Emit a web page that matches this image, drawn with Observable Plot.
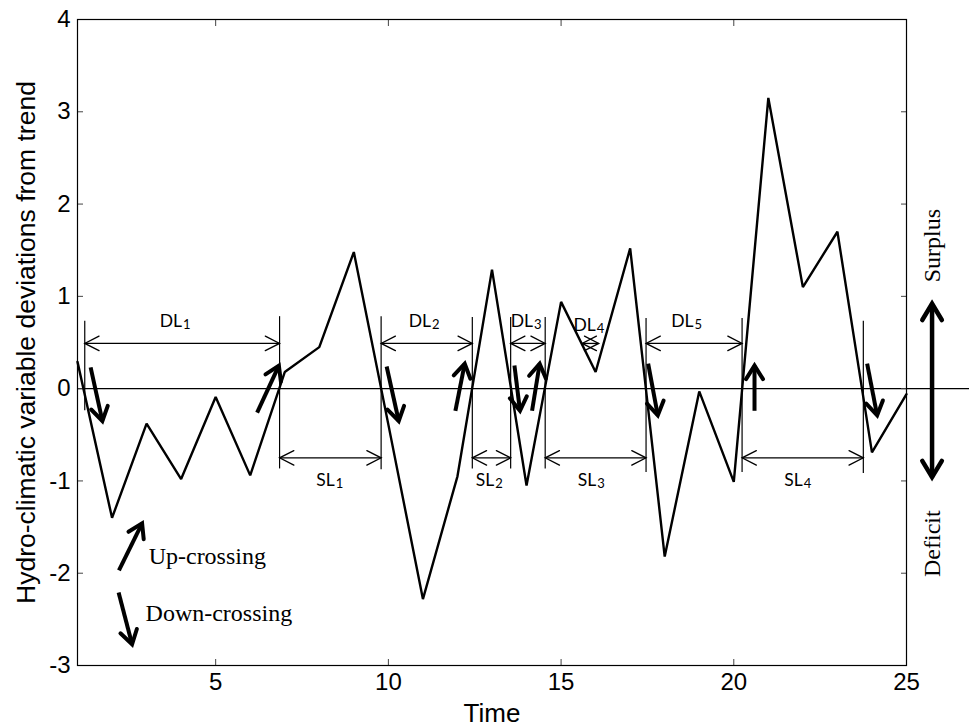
<!DOCTYPE html>
<html>
<head>
<meta charset="utf-8">
<script src="https://cdn.jsdelivr.net/npm/d3@7"></script>
<script src="https://cdn.jsdelivr.net/npm/@observablehq/plot@0.6"></script>
<style>
  body { margin: 0; background: #fff; }
  #chart { width: 969px; height: 728px; }
</style>
</head>
<body>
<div id="chart"></div>
<script>
// Series: deviations of a hydro-climatic variable from its trend
const time = [1, 2, 3, 4, 5, 6, 7, 8, 9, 10, 11, 12, 13, 14, 15, 16, 17, 18, 19, 20, 21, 22, 23, 24, 25];
const deviation = [0.29, -1.40, -0.38, -0.98, -0.09, -0.94, 0.18, 0.45, 1.48, -0.39, -2.28, -0.95, 1.29, -1.05, 0.94, 0.18, 1.52, -1.82, -0.03, -1.01, 3.15, 1.10, 1.70, -0.69, -0.06];

const xTicks = [5, 10, 15, 20, 25];
const yTicks = [-3, -2, -1, 0, 1, 2, 3, 4];

// Zero crossings of the series, with the extent of their marker lines
const crossings = [1.21, 6.85, 9.79, 12.43, 13.54, 14.54, 17.46, 20.24, 23.75];
const markerTop = [0.73, 0.78, 0.78, 0.77, 0.77, 0.77, 0.76, 0.76, 0.73];
const markerBottom = [-0.24, -0.87, -0.88, -0.87, -0.87, -0.87, -0.91, -0.91, -0.92];

// Run lengths: DL spans and SL spans
const dlIndex = ["1", "2", "3", "4", "5"];
const dlStart = [1.21, 9.79, 13.54, 15.61, 17.46];
const dlEnd = [6.85, 12.43, 14.54, 16.09, 20.24];
const dlLabelX = [3.91, 11.12, 14.07, 15.89, 18.72];
const dlLabelY = [0.73, 0.73, 0.73, 0.69, 0.73];
const dlLevel = 0.49;

const slIndex = ["1", "2", "3", "4"];
const slStart = [6.85, 12.43, 14.54, 20.24];
const slEnd = [9.79, 13.54, 17.46, 23.75];
const slLabelX = [8.33, 12.95, 15.90, 21.88];
const slLabelY = [-0.99, -0.99, -0.99, -0.99];
const slLevel = -0.75;

// Up- and down-crossing indicators: [x1, y1, x2, y2]
const crossingArrows = [
  [1.38, 0.23, 1.72, -0.35],
  [6.20, -0.26, 6.83, 0.25],
  [9.95, 0.24, 10.30, -0.35],
  [11.94, -0.24, 12.21, 0.27],
  [13.65, 0.25, 13.81, -0.24],
  [14.16, -0.24, 14.38, 0.27],
  [17.52, 0.27, 17.80, -0.29],
  [20.60, -0.24, 20.60, 0.25],
  [23.86, 0.27, 24.15, -0.29]
];

// Key for the indicators
const keyArrows = [[2.20, -1.97, 2.87, -1.46], [2.19, -2.21, 2.58, -2.77]];
const keyText = ["Up-crossing", "Down-crossing"];
const keyTextX = [3.06, 2.97];
const keyTextY = [-1.82, -2.43];

// Surplus / deficit side arrow
const sideX = 25.74;
const sideTop = 0.92;
const sideBottom = -0.96;
const sideText = ["Surplus", "Deficit"];
const sideTextY = [1.55, -1.68];

// Layout
const width = 969, height = 728;
const margin = {left: 77, right: 63, top: 19, bottom: 63};
const xDomain = [1, 25], yDomain = [-3, 4];
const kx = (width - margin.left - margin.right) / (xDomain[1] - xDomain[0]);
const ky = (height - margin.top - margin.bottom) / (yDomain[1] - yDomain[0]);
// screen bearing (degrees clockwise from up) of a segment given in data units
const bearing = (x1, y1, x2, y2) => Math.atan2((x2 - x1) * kx, (y2 - y1) * ky) * 180 / Math.PI;

// Open arrowhead drawn with its tip at the origin, pointing up
const chevron = (halfAngle) => {
  const s = Math.sin(halfAngle * Math.PI / 180), c = Math.cos(halfAngle * Math.PI / 180);
  return {
    draw(context, l) {
      context.moveTo(-l * s, l * c);
      context.lineTo(0, 0);
      context.lineTo(l * s, l * c);
    }
  };
};

const series = time.map((t, i) => ({t, v: deviation[i]}));
const markers = crossings.map((x, i) => ({x, y1: markerTop[i], y2: markerBottom[i]}));
const labels = [
  ...dlIndex.map((k, i) => ({prefix: "DL", k, x: dlLabelX[i], y: dlLabelY[i]})),
  ...slIndex.map((k, i) => ({prefix: "SL", k, x: slLabelX[i], y: slLabelY[i]}))
];
const spans = [
  ...dlStart.map((a, i) => ({a, b: dlEnd[i], y: dlLevel})),
  ...slStart.map((a, i) => ({a, b: slEnd[i], y: slLevel}))
];
const spanHeads = spans.flatMap(({a, b, y}) => [{x: a, y, r: -90}, {x: b, y, r: 90}]);

const arrows = [...crossingArrows, ...keyArrows].map(([x1, y1, x2, y2]) => ({x1, y1, x2, y2, r: bearing(x1, y1, x2, y2)}));
const keys = keyText.map((text, i) => ({text, x: keyTextX[i], y: keyTextY[i]}));
const sideShaft = [{x: sideX, y1: sideTop, y2: sideBottom}];
const sideHeads = [{x: sideX, y: sideTop, r: 0}, {x: sideX, y: sideBottom, r: 180}];
const side = sideText.map((text, i) => ({text, y: sideTextY[i]}));

const labelFont = "Lato, 'Open Sans', sans-serif";
const serif = "'Liberation Serif', 'Times New Roman', serif";

const chart = Plot.plot({
  width,
  height,
  marginLeft: margin.left,
  marginRight: margin.right,
  marginTop: margin.top,
  marginBottom: margin.bottom,
  x: {domain: xDomain},
  y: {domain: yDomain},
  style: {fontFamily: "'Liberation Sans', Arial, sans-serif", background: "#fff", color: "#000", overflow: "visible"},
  marks: [
    // zero line, running on past the right edge of the box
    Plot.ruleY([0], {stroke: "#000", strokeWidth: 1.3, insetRight: -margin.right}),

    // inward tick marks on all four sides
    Plot.axisX({ticks: xTicks, anchor: "bottom", tickSize: 6, dy: -6, tickFormat: () => "", label: null, stroke: "#444"}),
    Plot.axisX({ticks: xTicks, anchor: "top", tickSize: 6, dy: 6, tickFormat: () => "", label: null, stroke: "#444"}),
    Plot.axisY({ticks: yTicks, anchor: "left", tickSize: 6, dx: 6, tickFormat: () => "", label: null, stroke: "#444"}),
    Plot.axisY({ticks: yTicks, anchor: "right", tickSize: 6, dx: -6, tickFormat: () => "", label: null, stroke: "#444"}),

    // tick labels
    Plot.axisX({ticks: xTicks, anchor: "bottom", tickSize: 0, tickPadding: 7, fontSize: 24, label: null, tickFormat: d => String(d)}),
    Plot.axisY({ticks: yTicks, anchor: "left", tickSize: 0, tickPadding: 7, fontSize: 24, label: null, tickFormat: d => String(d)}),

    // axis titles
    Plot.text(["Time"], {frameAnchor: "bottom", textAnchor: "middle", lineAnchor: "top", dy: 38, fontSize: 26}),
    Plot.text(["Hydro-climatic variable deviations from trend"], {frameAnchor: "left", textAnchor: "middle", rotate: -90, dx: -51, fontSize: 26.5}),

    Plot.frame({stroke: "#000", strokeWidth: 1.2}),

    // crossing marker lines
    Plot.ruleX(markers, {x: "x", y1: "y1", y2: "y2", stroke: "#000", strokeWidth: 1.2}),

    // double-headed span arrows
    Plot.link(spans, {x1: "a", x2: "b", y1: "y", y2: "y", stroke: "#000", strokeWidth: 1.3}),
    Plot.vector(spanHeads, {x: "x", y: "y", rotate: "r", length: 16, anchor: "start", shape: chevron(27), stroke: "#000", strokeWidth: 1.3, strokeLinejoin: "miter"}),

    // span labels with subscript index
    Plot.text(labels, {x: "x", y: "y", text: "prefix", textAnchor: "end", dx: 4, fontSize: 17.5, fontFamily: labelFont}),
    Plot.text(labels, {x: "x", y: "y", text: "k", textAnchor: "start", dx: 5, dy: 4, fontSize: 13, fontFamily: labelFont}),

    // the series
    Plot.line(series, {x: "t", y: "v", stroke: "#000", strokeWidth: 2.4, strokeLinejoin: "miter"}),

    // crossing indicators and key arrows
    Plot.link(arrows, {x1: "x1", y1: "y1", x2: "x2", y2: "y2", stroke: "#000", strokeWidth: 4}),
    Plot.vector(arrows, {x: "x2", y: "y2", rotate: "r", length: 16, anchor: "start", shape: chevron(32), stroke: "#000", strokeWidth: 4, strokeLinejoin: "miter"}),
    Plot.text(keys, {x: "x", y: "y", text: "text", textAnchor: "start", fontSize: 24, fontFamily: serif}),

    // surplus / deficit arrow and labels
    Plot.link(sideShaft, {x1: "x", x2: "x", y1: "y1", y2: "y2", stroke: "#000", strokeWidth: 4.5}),
    Plot.vector(sideHeads, {x: "x", y: "y", rotate: "r", length: 19, anchor: "start", shape: chevron(31), stroke: "#000", strokeWidth: 4.5, strokeLinejoin: "miter"}),
    Plot.text(side, {x: () => sideX, y: "y", text: "text", rotate: -90, fontSize: 24, fontFamily: serif})
  ]
});

document.getElementById("chart").appendChild(chart);
</script>
</body>
</html>
